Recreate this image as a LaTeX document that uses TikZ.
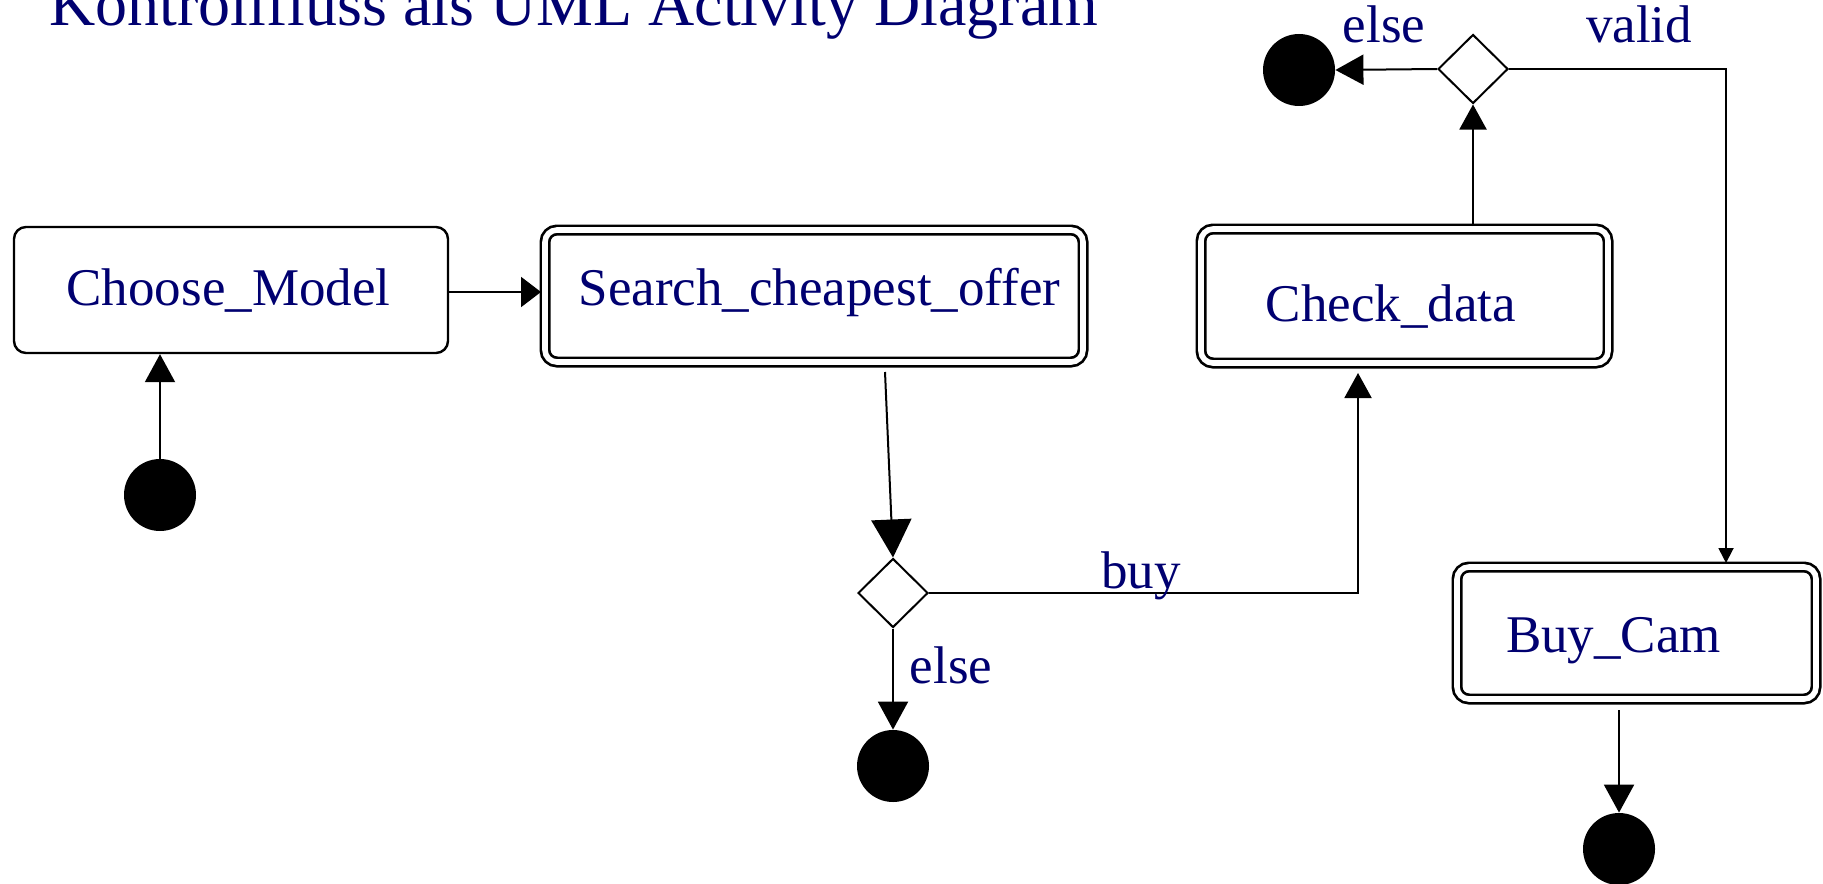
\documentclass[tikz,border=0pt]{standalone}
\usepackage{fontspec}
\setmainfont{Liberation Serif}
\usetikzlibrary{arrows.meta,shapes.geometric}
\definecolor{navy}{RGB}{0,0,112}
\begin{document}
\begin{tikzpicture}[x=0.5pt,y=-0.5pt,
  lbl/.style={inner sep=0pt, anchor=base, text=navy, font=\fontsize{26.5pt}{30pt}\selectfont},
  simplebox/.style={draw, line width=1.2pt, rounded corners=6pt, inner sep=0pt},
  actbox/.style={draw, line width=1.35pt, double=white, double distance=2.8pt, rounded corners=6pt, inner sep=0pt},
  decision/.style={draw, diamond, line width=1pt, minimum width=35pt, minimum height=34.5pt, inner sep=0pt, fill=white},
  enddot/.style={circle, fill=black, minimum size=36pt, inner sep=0pt},
  flow/.style={line width=1pt, -{Triangle[length=14pt,width=15pt]}},
  flowshort/.style={line width=1pt, -{Triangle[length=10pt,width=15pt]}},
  flowbig/.style={line width=1pt, -{Triangle[length=19pt,width=20pt]}},
  flowmid/.style={line width=1pt, -{Triangle[length=12.5pt,width=13.5pt]}},
  flowsmall/.style={line width=0.9pt, -{Triangle[length=7.5pt,width=7.5pt]}}
]
\useasboundingbox (0,0) rectangle (1823,883);

% title
\node[anchor=base west, inner sep=0pt, text=navy, font=\fontsize{32pt}{36pt}\selectfont]
  (title) at (49,25.6) {Kontrollfluss als UML Activity Diagram};

% activities
\node[simplebox, minimum width=217pt, minimum height=63pt] (cm) at (231,290) {};
\node[actbox, minimum width=269pt, minimum height=66pt] (sco) at (814,296) {};
\node[actbox, minimum width=203.5pt, minimum height=67pt] (cd) at (1404.5,296) {};
\node[actbox, minimum width=179.5pt, minimum height=66pt] (bc) at (1636.5,633) {};

\node[lbl] (cmt) at (228.5,305) {Choose\_Model};
\node[lbl] (scot) at (819.5,305) {Search\_cheapest\_offer};
\node[lbl] (cdt) at (1391,321) {Check\_data};
\node[lbl] (bct) at (1613.5,652) {Buy\_Cam};

% decisions
\node[decision] (d1) at (893,593) {};
\node[decision] (d2) at (1473,69) {};

% start and end points
\node[enddot] (s0) at (160,495) {};
\node[enddot] (e1) at (893,766) {};
\node[enddot] (e2) at (1299,70) {};
\node[enddot] (e3) at (1619,849) {};

% helper points on the activity borders
\coordinate (cmrow) at (0,292);
\coordinate (scoin) at (541,292);
\coordinate (scoout) at (885,372);
\coordinate (cdin) at (1358,373);
\coordinate (cdout) at (1473,226);
\coordinate (bcin) at (1726,563);
\coordinate (bcout) at (1619,710);

% control flow
\draw[flow] (s0.north) -- (s0.north |- cm.south);
\draw[flowshort] (cm.east |- cmrow) -- (scoin);
\draw[flowbig] (scoout) -- (d1.north);
\draw[flow] (d1.south) -- (e1.north);
\draw[flowmid] (d1.east) -| (cdin);
\draw[flowmid] (cdout) -- (d2.south);
\draw[flow] (d2.west) -- (e2.east);
\draw[flowsmall] (d2.east) -| (bcin);
\draw[flow] (bcout) -- (e3.north);

% guards
\node[lbl] (gbuy) at (1141,588) {buy};
\node[lbl] (gelse1) at (951,683) {else};
\node[lbl] (gelse2) at (1384,43) {else};
\node[lbl] (gvalid) at (1639,43) {valid};
\end{tikzpicture}
\end{document}
